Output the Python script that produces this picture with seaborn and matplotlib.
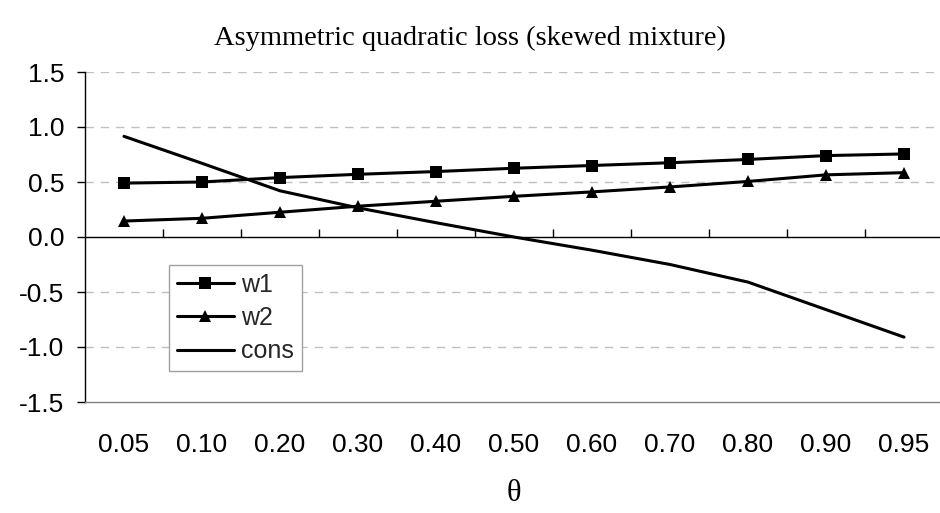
import numpy as np
import pandas as pd
import matplotlib
matplotlib.use("Agg")
import matplotlib.pyplot as plt
import seaborn as sns

# ---- data ----
theta_labels = ["0.05", "0.10", "0.20", "0.30", "0.40", "0.50",
                "0.60", "0.70", "0.80", "0.90", "0.95"]
w1 = [0.49, 0.50, 0.54, 0.57, 0.595, 0.625, 0.65, 0.675, 0.705, 0.74, 0.755]
w2 = [0.145, 0.17, 0.225, 0.28, 0.325, 0.37, 0.41, 0.455, 0.505, 0.565, 0.585]
cons = [0.915, 0.67, 0.42, 0.265, 0.13, 0.0, -0.12, -0.25, -0.41, -0.66, -0.91]
series_names = ["w1", "w2", "cons"]
series_markers = ["s", "^", None]
y_ticks = [-1.5, -1.0, -0.5, 0.0, 0.5, 1.0, 1.5]

title = "Asymmetric quadratic loss (skewed mixture)"
xlabel = "θ"

sns.set_theme(style="white")
plt.rcParams["font.family"] = ["Liberation Sans", "DejaVu Sans"]
plt.rcParams["axes.unicode_minus"] = False

pos = np.arange(len(theta_labels))
df = pd.DataFrame({
    "pos": np.tile(pos, 3),
    "value": np.concatenate([w1, w2, cons]),
    "series": np.repeat(series_names, len(pos)),
})

fig = plt.figure(figsize=(9.4, 5.13), dpi=100)
ax = fig.add_axes([85 / 940, 1 - 402 / 513, 858 / 940, 330 / 513])

for name, mk in zip(series_names, series_markers):
    sub = df[df["series"] == name]
    kw = dict(marker=mk, markersize=8, markeredgewidth=0) if mk else {}
    sns.lineplot(data=sub, x="pos", y="value", ax=ax, color="black",
                 linewidth=2.2, label=name, **kw)

ax.set_xlim(-0.5, len(theta_labels) - 0.5)
ax.set_ylim(-1.5, 1.5)
ax.set_yticks(y_ticks)
ax.set_yticklabels([f"{v:.1f}" for v in y_ticks])
ax.set_xticks(pos)
ax.set_xticklabels(theta_labels)

# gridlines
for v in y_ticks[1:]:
    if v != 0:
        ax.axhline(v, color="#c0c0c0", linewidth=1, dashes=(6, 5), zorder=0)
# horizontal category axis at zero with tick marks between categories
ax.axhline(0, color="black", linewidth=1, zorder=1)
ax.vlines(np.arange(0.5, len(theta_labels)), 0, 0.073, color="black",
          linewidth=1, zorder=1)

for s in ["top", "right"]:
    ax.spines[s].set_visible(False)
ax.spines["left"].set_color("black")
ax.spines["left"].set_linewidth(1)
ax.spines["bottom"].set_color("#808080")
ax.spines["bottom"].set_linewidth(1)

ax.tick_params(axis="y", direction="out", length=6, width=1, color="black",
               left=True, pad=9, labelsize=19, labelcolor="black")
ax.tick_params(axis="x", length=0, pad=22, labelsize=19, labelcolor="black")

ax.set_xlabel(xlabel, family=["Liberation Serif", "DejaVu Serif"], fontsize=22,
              labelpad=16, color="black")
ax.set_ylabel("")
fig.text(470 / 940, 1 - 38 / 513, title, ha="center", va="center",
         family=["Liberation Serif", "DejaVu Serif"], fontsize=20.5, color="black")

leg = ax.legend(loc="upper left", bbox_to_anchor=(84 / 858, 137 / 330),
                borderaxespad=0, fontsize=18, frameon=True, fancybox=False,
                edgecolor="#a0a0a0", framealpha=1, handlelength=2.3,
                handletextpad=0.3, labelspacing=0.38, borderpad=0.3)
leg.get_frame().set_linewidth(1)

fig.savefig("out.png", dpi=100)
